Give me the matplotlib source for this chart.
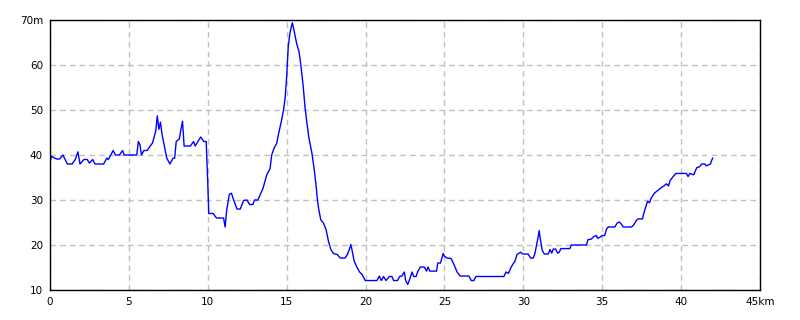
import matplotlib
matplotlib.use("Agg")
from matplotlib import pyplot as plt

# distance (km) and elevation (m)
dist = [0.0, 0.1, 0.3, 0.45, 0.6, 0.82, 1.1, 1.4, 1.6, 1.77, 1.9, 2.15, 2.36, 2.5, 2.7, 2.85,
        3.4, 3.6, 3.7, 4.0, 4.15, 4.4, 4.6, 4.7, 5.5, 5.6, 5.7, 5.8, 5.95, 6.15, 6.5, 6.7,
        6.8, 6.9, 7.0, 7.1, 7.25, 7.4, 7.6, 7.8, 7.9, 8.0, 8.2, 8.3, 8.4, 8.5, 8.9, 9.1,
        9.2, 9.55, 9.75, 9.9, 10.0, 10.06, 10.34, 10.55, 11.0, 11.1, 11.2, 11.37, 11.5, 11.64,
        11.85, 12.06, 12.27, 12.48, 12.65, 12.86, 12.96, 13.17, 13.3, 13.5, 13.74, 13.95, 14.05,
        14.2, 14.37, 14.47, 14.68, 14.8, 14.9, 15.0, 15.1, 15.2, 15.36, 15.46, 15.63, 15.78,
        15.9, 16.05, 16.16, 16.26, 16.4, 16.6, 16.75, 16.86, 16.95, 17.04, 17.16, 17.33, 17.5,
        17.65, 17.8, 17.97, 18.2, 18.4, 18.7, 18.85, 18.97, 19.07, 19.17, 19.28, 19.45, 19.62,
        19.77, 19.98, 20.72, 20.87, 21.0, 21.14, 21.3, 21.5, 21.67, 21.78, 22.03, 22.16, 22.3,
        22.46, 22.54, 22.67, 22.8, 22.95, 23.05, 23.2, 23.3, 23.47, 23.73, 23.86, 23.96, 24.07,
        24.2, 24.5, 24.58, 24.75, 24.92, 25.0, 25.17, 25.42, 25.6, 25.8, 26.0, 26.55, 26.7,
        26.86, 27.0, 28.77, 28.9, 29.05, 29.26, 29.47, 29.6, 29.83, 29.96, 30.3, 30.46, 30.63,
        30.74, 30.84, 30.95, 31.0, 31.1, 31.2, 31.33, 31.58, 31.69, 31.8, 31.9, 32.05, 32.17,
        32.26, 32.38, 32.95, 33.04, 34.0, 34.1, 34.3, 34.47, 34.64, 34.7, 34.85, 35.0, 35.15,
        35.27, 35.38, 35.8, 35.95, 36.08, 36.22, 36.33, 36.86, 37.0, 37.17, 37.28, 37.55, 37.64,
        37.74, 37.87, 38.0, 38.1, 38.3, 38.44, 38.59, 38.76, 38.9, 39.07, 39.2, 39.3, 39.45,
        39.66, 40.34, 40.44, 40.55, 40.8, 40.93, 41.0, 41.18, 41.3, 41.5, 41.6, 41.86, 41.9, 42.0]
elev = [38.6, 39.7, 39.3, 39.1, 39.1, 40.0, 38.0, 38.0, 39.0, 40.7, 38.0, 39.0, 39.0, 38.2, 39.0, 38.0,
        38.0, 39.3, 39.0, 41.0, 40.0, 40.0, 41.0, 40.0, 40.0, 43.0, 42.3, 40.0, 41.0, 41.0, 42.7, 45.3,
        48.7, 45.7, 47.3, 44.6, 42.0, 39.3, 38.0, 39.3, 39.3, 43.0, 43.6, 45.7, 47.5, 42.0, 42.0, 43.0,
        42.0, 44.0, 43.0, 43.0, 33.7, 27.0, 27.0, 26.0, 26.0, 24.0, 27.8, 31.3, 31.5, 30.0,
        28.0, 28.0, 29.9, 30.0, 29.0, 29.0, 30.0, 30.0, 31.0, 32.6, 35.6, 37.0, 40.0,
        41.5, 42.6, 44.4, 47.8, 50.0, 52.6, 57.4, 64.0, 67.0, 69.4, 67.8, 64.8, 63.0,
        60.0, 55.2, 50.7, 47.8, 44.0, 40.4, 36.7, 33.3, 30.0, 27.8, 25.6, 24.9, 23.4,
        20.8, 19.0, 18.1, 17.9, 17.1, 17.1, 17.9, 19.0, 20.1, 18.4, 16.4, 15.1, 14.0,
        13.5, 12.1, 12.1, 13.1, 12.1, 13.0, 12.1, 13.0, 13.0, 12.1, 12.1, 13.0, 13.1,
        14.0, 12.1, 11.25, 12.4, 14.0, 13.0, 13.0, 14.0, 15.1, 15.1, 14.2, 15.1, 14.2,
        14.2, 14.2, 16.0, 16.0, 18.1, 17.5, 17.1, 17.0, 15.7, 14.0, 13.1, 13.1, 12.1,
        12.1, 13.0, 13.0, 14.0, 13.7, 15.3, 16.4, 17.9, 18.4, 18.0, 18.0, 17.1, 17.1,
        18.2, 20.0, 22.0, 23.2, 20.8, 18.8, 18.0, 18.0, 19.0, 18.2, 19.1, 19.1, 18.2,
        18.3, 19.2, 19.2, 20.0, 20.0, 21.2, 21.3, 21.9, 22.1, 21.5, 21.7, 22.1, 22.1,
        23.5, 24.0, 24.0, 24.9, 25.1, 24.6, 24.0, 24.0, 24.5, 25.5, 25.8, 25.8, 27.1,
        28.2, 29.7, 29.4, 30.4, 31.5, 31.9, 32.3, 32.8, 33.1, 33.6, 33.1, 34.3, 35.0,
        35.9, 35.9, 35.2, 35.9, 35.6, 36.7, 37.2, 37.4, 38.0, 38.0, 37.6, 38.0, 38.5, 39.3]

xticks = [0, 5, 10, 15, 20, 25, 30, 35, 40, 45]
xlabels = ["0", "5", "10", "15", "20", "25", "30", "35", "40", "45km"]
yticks = [10, 20, 30, 40, 50, 60, 70]
ylabels = ["10", "20", "30", "40", "50", "60", "70m"]

fig = plt.figure(figsize=(8, 3.2), dpi=100)
ax = fig.add_axes([50 / 800, 30 / 320, 710 / 800, 270 / 320])

ax.plot(dist, elev, color="#0000ff", linewidth=1)

ax.set_xlim(0, 45)
ax.set_ylim(10, 70)
ax.set_xticks(xticks)
ax.set_xticklabels(xlabels)
ax.set_yticks(yticks)
ax.set_yticklabels(ylabels)
ax.tick_params(length=0, labelsize=7.5, pad=5)
ax.grid(color="#c0c0c0", linestyle=(0, (4, 3)), linewidth=1)
for s in ax.spines.values():
    s.set_linewidth(1)
    s.set_color("black")

fig.savefig("out.png", dpi=100)
